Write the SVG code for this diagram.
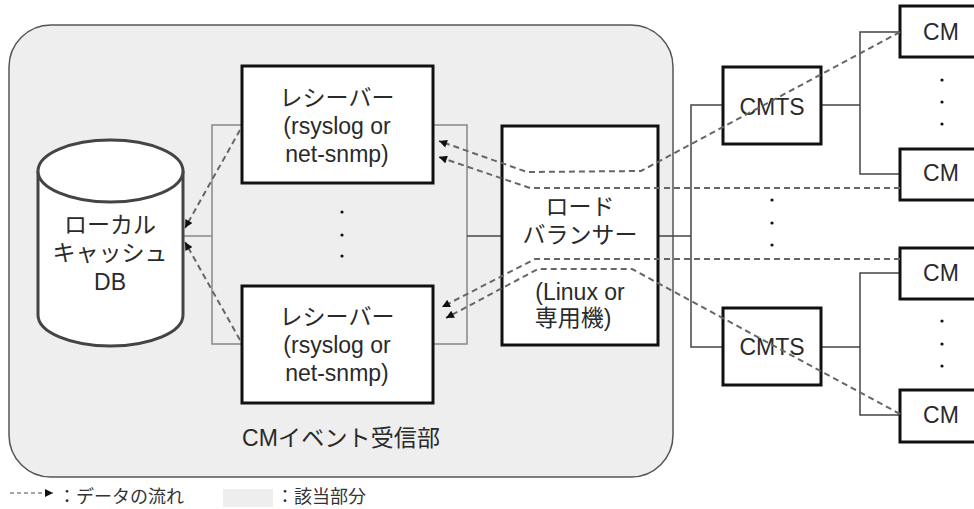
<svg xmlns="http://www.w3.org/2000/svg" width="974" height="509" viewBox="0 0 974 509">
<style>
.t{font-family:"Liberation Sans","Noto Sans CJK JP",sans-serif;font-size:23px;fill:#2a2a2a;text-anchor:middle}
.lg{font-family:"Liberation Sans","Noto Sans CJK JP",sans-serif;font-size:18px;fill:#333}
.box{fill:#fff;stroke:#111;stroke-width:3}
.br{fill:none;stroke:#888;stroke-width:1.5}
.ln{fill:none;stroke:#444;stroke-width:1.5}
.df{fill:none;stroke:#666;stroke-width:2;stroke-dasharray:6 4;marker-end:url(#ah)}
.dt{fill:#111}
</style>
<defs>
<marker id="ah" viewBox="0 0 10 10" refX="10" refY="5" markerWidth="10" markerHeight="8" markerUnits="userSpaceOnUse" orient="auto">
<path d="M0,0 L10,5 L0,10 z" fill="#111"/>
</marker>
</defs>
<rect id="area" x="9" y="25" width="664" height="452" rx="42" fill="#eeeeee" stroke="#555" stroke-width="1.5"/>
<g id="connectors">
<path class="br" d="M183,236 H212 M242,125 H212 V344 H242"/>
<path class="br" d="M433,125 H467 V344 H433"/>
<path class="ln" d="M467,236 H502"/>
<path class="ln" d="M658,236 H691 M723,105 H691 V347 H723"/>
<path class="ln" d="M821,105 H860 M900,32 H860 V174 H900"/>
<path class="ln" d="M821,347 H860 M900,273 H860 V415 H900"/>
</g>
<g id="db">
<path d="M38,171 V315 A72.5,31 0 0 0 183,315 V171" fill="#fff" stroke="#444" stroke-width="3"/>
<ellipse cx="110.5" cy="171" rx="72.5" ry="31" fill="#fff" stroke="#444" stroke-width="3"/>
<text class="t" x="110" y="233">ローカル</text>
<text class="t" x="110" y="261">キャッシュ</text>
<text class="t" x="110" y="290">DB</text>
</g>
<g id="receiver1">
<rect class="box" x="242" y="66" width="191" height="117"/>
<text class="t" x="337" y="106">レシーバー</text>
<text class="t" x="337" y="134">(rsyslog or</text>
<text class="t" x="337" y="162">net-snmp)</text>
</g>
<g id="receiver-dots">
<circle class="dt" cx="342" cy="212" r="1.6"/>
<circle class="dt" cx="342" cy="235" r="1.6"/>
<circle class="dt" cx="342" cy="256" r="1.6"/>
</g>
<g id="receiver2">
<rect class="box" x="242" y="286" width="191" height="117"/>
<text class="t" x="337" y="325">レシーバー</text>
<text class="t" x="337" y="353">(rsyslog or</text>
<text class="t" x="337" y="381">net-snmp)</text>
</g>
<g id="lb">
<rect class="box" x="502" y="126" width="156" height="219"/>
<text class="t" x="580" y="215">ロード</text>
<text class="t" x="580" y="243">バランサー</text>
<text class="t" x="580" y="300">(Linux or</text>
<text class="t" x="573" y="326">専用機)</text>
</g>
<g id="cmts1">
<rect class="box" x="723" y="67" width="98" height="77"/>
<text class="t" x="772" y="115">CMTS</text>
</g>
<g id="cmts-dots">
<circle class="dt" cx="772" cy="200" r="1.6"/>
<circle class="dt" cx="772" cy="223" r="1.6"/>
<circle class="dt" cx="772" cy="245" r="1.6"/>
</g>
<g id="cmts2">
<rect class="box" x="723" y="308" width="98" height="77"/>
<text class="t" x="772" y="355">CMTS</text>
</g>
<g id="cm1">
<rect class="box" x="900" y="6" width="90" height="51"/>
<text class="t" x="941" y="40">CM</text>
</g>
<g id="cm-dots1">
<circle class="dt" cx="942" cy="80" r="1.6"/>
<circle class="dt" cx="942" cy="102" r="1.6"/>
<circle class="dt" cx="942" cy="124" r="1.6"/>
</g>
<g id="cm2">
<rect class="box" x="900" y="149" width="90" height="51"/>
<text class="t" x="941" y="181">CM</text>
</g>
<g id="cm3">
<rect class="box" x="900" y="248" width="90" height="51"/>
<text class="t" x="941" y="281">CM</text>
</g>
<g id="cm-dots2">
<circle class="dt" cx="942" cy="321" r="1.6"/>
<circle class="dt" cx="942" cy="344" r="1.6"/>
<circle class="dt" cx="942" cy="366" r="1.6"/>
</g>
<g id="cm4">
<rect class="box" x="900" y="390" width="90" height="52"/>
<text class="t" x="941" y="423">CM</text>
</g>
<text class="t" x="242" y="446" style="text-anchor:start" textLength="198" lengthAdjust="spacing">CMイベント受信部</text>
<g id="flows">
<path class="df" d="M900,32 L641,171 L527,172 L439,141"/>
<path class="df" d="M900,188 L530,188 L439,157"/>
<path class="df" d="M900,259 L535,259 L442,307"/>
<path class="df" d="M900,414 L632,269 L538,269 L446,318"/>
<path class="df" d="M240,130 L185,228"/>
<path class="df" d="M240,340 L185,242"/>
</g>
<g id="legend">
<path d="M10,493 H53" fill="none" stroke="#888" stroke-width="1.5" stroke-dasharray="4 3" marker-end="url(#ah)"/>
<text class="lg" x="58" y="503">：データの流れ</text>
<rect x="223" y="489" width="50" height="18" fill="#eeeeee"/>
<text class="lg" x="276" y="503">：該当部分</text>
</g>
</svg>
